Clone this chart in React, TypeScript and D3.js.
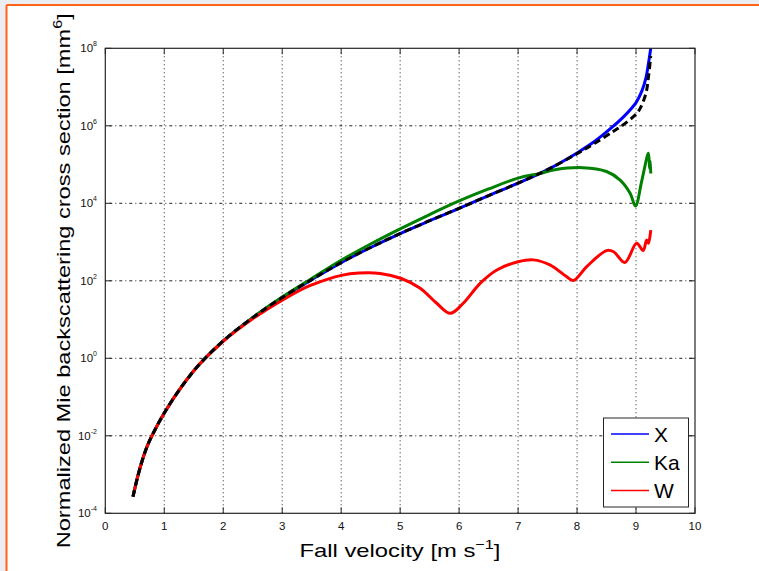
import React from "react";
import * as d3 from "d3";

// Fall velocity grid [m s^-1] and log10 of the normalized backscattering cross section [mm^6]
const xVel = [0.47, 0.55, 0.63, 0.71, 0.79, 1.0, 1.3, 1.6, 2.0, 2.5, 3.0, 3.5, 4.0, 4.5, 5.0, 5.5, 6.0, 6.5, 7.0, 7.5, 8.0, 8.3, 8.6, 8.8, 9.0, 9.1, 9.17, 9.21, 9.25];
const xLog = [-3.57, -3.05, -2.62, -2.27, -2.0, -1.41, -0.72, -0.15, 0.45, 1.05, 1.57, 2.03, 2.47, 2.86, 3.22, 3.55, 3.87, 4.2, 4.52, 4.87, 5.3, 5.6, 5.97, 6.25, 6.6, 6.9, 7.25, 7.6, 8.0];

const kaVel = [0.47, 0.55, 0.63, 0.71, 0.79, 1.0, 1.3, 1.6, 2.0, 2.5, 3.0, 3.5, 4.0, 4.5, 5.0, 5.5, 6.0, 6.5, 7.0, 7.37, 7.6, 8.1, 8.5, 8.73, 8.9, 8.99, 9.1, 9.21, 9.23, 9.24, 9.25];
const kaLog = [-3.57, -3.05, -2.62, -2.27, -2.0, -1.41, -0.72, -0.15, 0.45, 1.05, 1.58, 2.06, 2.53, 2.95, 3.34, 3.71, 4.06, 4.37, 4.65, 4.77, 4.86, 4.92, 4.82, 4.6, 4.26, 3.93, 4.6, 5.29, 4.9, 5.1, 4.77];

const wVel = [0.47, 0.55, 0.63, 0.71, 0.79, 1.0, 1.3, 1.6, 2.0, 2.5, 3.0, 3.4, 3.75, 4.0, 4.3, 4.66, 5.02, 5.34, 5.62, 5.85, 6.07, 6.36, 6.64, 7.0, 7.26, 7.54, 7.82, 7.94, 8.16, 8.5, 8.62, 8.81, 9.01, 9.12, 9.18, 9.21, 9.25];
const wLog = [-3.57, -3.05, -2.62, -2.27, -2.0, -1.41, -0.72, -0.15, 0.44, 1.02, 1.5, 1.83, 2.03, 2.14, 2.2, 2.19, 2.06, 1.81, 1.42, 1.16, 1.42, 1.94, 2.28, 2.49, 2.54, 2.41, 2.11, 2.01, 2.36, 2.78, 2.75, 2.47, 2.97, 2.78, 3.05, 2.97, 3.31];

// Rayleigh reference (dashed)
const refVel = [0.47, 0.55, 0.63, 0.71, 0.79, 1.0, 1.3, 1.6, 2.0, 2.5, 3.0, 3.5, 4.0, 4.5, 5.0, 5.5, 6.0, 6.5, 7.0, 7.5, 8.0, 8.3, 8.6, 8.76, 9.0, 9.07, 9.17, 9.21, 9.25];
const refLog = [-3.57, -3.05, -2.62, -2.27, -2.0, -1.41, -0.72, -0.15, 0.45, 1.05, 1.57, 2.03, 2.47, 2.86, 3.22, 3.55, 3.87, 4.2, 4.52, 4.87, 5.28, 5.55, 5.84, 6.0, 6.3, 6.45, 6.85, 7.25, 7.8];

const xTicks = [0, 1, 2, 3, 4, 5, 6, 7, 8, 9, 10];
const yTickExps = [-4, -2, 0, 2, 4, 6, 8];

const legendNames = ["X", "Ka", "W"];
const legendColors = ["#0000ff", "#008000", "#ff0000"];

const W = 759;
const H = 571;
const left = 105.3;
const right = 695;
const top = 48.3;
const bottom = 513.3;
const font = "'Liberation Sans', Arial, Helvetica, sans-serif";

export default function App() {
  const x = d3.scaleLinear().domain([0, 10]).range([left, right]);
  const y = d3.scaleLinear().domain([-4, 8]).range([bottom, top]);

  const line = d3
    .line<[number, number]>()
    .x((d) => x(d[0]))
    .y((d) => y(d[1]))
    .curve(d3.curveCatmullRom.alpha(0.5));

  const pairs = (vs: number[], ls: number[]) => vs.map((v, i) => [v, ls[i]] as [number, number]);

  const series = [
    { pts: pairs(xVel, xLog), color: legendColors[0], dash: undefined },
    { pts: pairs(kaVel, kaLog), color: legendColors[1], dash: undefined },
    { pts: pairs(wVel, wLog), color: legendColors[2], dash: undefined },
    { pts: pairs(refVel, refLog), color: "#000000", dash: "7,4" },
  ];

  const tickLen = 6;

  return (
    <svg
      width={W}
      height={H}
      style={{ position: "absolute", left: 0, top: 0, display: "block" }}
      fontFamily={font}
    >
      <rect x={0} y={0} width={W} height={H} fill="#ececf3" />
      <rect x={7} y={5} width={W} height={H} fill="#ffffff" />
      <line x1={6.5} y1={5} x2={6.5} y2={H} stroke="#ff6419" strokeWidth={2} />
      <line x1={6.5} y1={5} x2={W} y2={5} stroke="#ff6419" strokeWidth={2} />

      {/* grid */}
      {xTicks.slice(1, -1).map((t) => (
        <line key={"gx" + t} x1={x(t)} x2={x(t)} y1={top} y2={bottom} stroke="#222" strokeWidth={1} strokeDasharray="1,3" />
      ))}
      {yTickExps.slice(1, -1).map((t) => (
        <line key={"gy" + t} x1={left} x2={right} y1={y(t)} y2={y(t)} stroke="#222" strokeWidth={1} strokeDasharray="1,3,3,3" />
      ))}

      {/* curves */}
      <g fill="none" strokeLinejoin="round">
        {series.map((s, i) => (
          <path key={i} d={line(s.pts) || ""} stroke={s.color} strokeWidth={3} strokeDasharray={s.dash} />
        ))}
      </g>

      {/* axes box and ticks */}
      <rect x={left} y={top} width={right - left} height={bottom - top} fill="none" stroke="#262626" strokeWidth={1.2} />
      {xTicks.map((t) => (
        <g key={"tx" + t}>
          <line x1={x(t)} x2={x(t)} y1={bottom} y2={bottom - tickLen} stroke="#262626" />
          <line x1={x(t)} x2={x(t)} y1={top} y2={top + tickLen} stroke="#262626" />
          <text x={x(t)} y={530} fontSize={11.5} textAnchor="middle" fill="#111">
            {t}
          </text>
        </g>
      ))}
      {yTickExps.map((t) => (
        <g key={"ty" + t}>
          <line x1={left} x2={left + tickLen} y1={y(t)} y2={y(t)} stroke="#262626" />
          <line x1={right} x2={right - tickLen} y1={y(t)} y2={y(t)} stroke="#262626" />
          <text x={97} y={y(t) + 4} fontSize={11.5} textAnchor="end" fill="#111">
            10
            <tspan dy={-6} fontSize={7}>
              {t}
            </tspan>
          </text>
        </g>
      ))}

      {/* legend */}
      <rect x={603.5} y={418} width={85} height={89} fill="#ffffff" stroke="#262626" strokeWidth={1} />
      {legendNames.map((n, i) => {
        const ly = 434 + i * 28.3;
        return (
          <g key={n}>
            <line x1={611} x2={649} y1={ly} y2={ly} stroke={legendColors[i]} strokeWidth={1.5} />
            <text x={654} y={ly + 7.5} fontSize={21} fill="#000">
              {n}
            </text>
          </g>
        );
      })}

      {/* axis titles */}
      <text x={299.5} y={557} fontSize={19} fill="#000" textLength={201} lengthAdjust="spacingAndGlyphs">
        Fall velocity [m s
        <tspan dy={-8} fontSize={13}>
          −1
        </tspan>
        <tspan dy={8}>]</tspan>
      </text>
      <text
        transform="translate(70,548.3) rotate(-90)"
        fontSize={19}
        fill="#000"
        textLength={535}
        lengthAdjust="spacingAndGlyphs"
      >
        Normalized Mie backscattering cross section [mm
        <tspan dy={-8} fontSize={13}>
          6
        </tspan>
        <tspan dy={8}>]</tspan>
      </text>
    </svg>
  );
}
